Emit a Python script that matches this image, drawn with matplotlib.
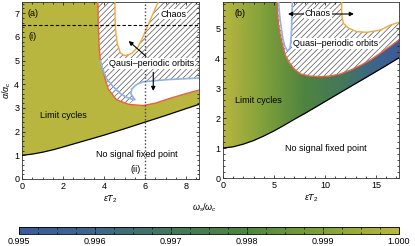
import matplotlib
matplotlib.use('Agg')  # sin pantalla
import matplotlib.pyplot as plt
from matplotlib.colors import LinearSegmentedColormap, Normalize
from matplotlib.cm import ScalarMappable
from matplotlib.patches import Polygon
from matplotlib.ticker import MultipleLocator
import numpy as np

plt.rcParams['font.family'] = ['Liberation Sans', 'DejaVu Sans']
plt.rcParams['mathtext.fontset'] = 'custom'
plt.rcParams['mathtext.rm'] = 'Liberation Sans'
plt.rcParams['mathtext.it'] = 'Liberation Sans:italic'
plt.rcParams['hatch.linewidth'] = 0.5

# --- panel (a): fronteras ---
a_black_x = [0, 0.5, 1, 1.5, 2, 3, 4, 5, 6, 7, 8, 8.7]
a_black_y = [1.0, 1.05, 1.13, 1.23, 1.35, 1.6, 1.85, 2.12, 2.4, 2.68, 2.97, 3.17]
a_red_x = [3.7, 3.72, 3.76, 3.82, 3.95, 4.2, 4.6, 5.2, 5.9, 6.5, 7.2, 7.9, 8.7]
a_red_y = [7.6, 6.5, 5.6, 5.0, 4.55, 3.8, 3.35, 3.15, 3.1, 3.2, 3.4, 3.58, 3.77]
a_blue_x = [3.8, 3.95, 4.15, 4.45, 4.8, 5.1, 5.35, 5.5, 5.3, 5.35, 5.6, 5.9, 6.5, 7.2, 7.9, 8.7]
a_blue_y = [5.0, 4.6, 4.2, 3.9, 3.6, 3.45, 3.37, 3.35, 3.6, 3.8, 4.0, 4.1, 4.15, 4.2, 4.23, 4.26]
a_orange_x = [4.53, 4.54, 4.58, 4.65, 4.8, 5.02, 5.35, 5.65, 5.9, 6.1, 6.35, 6.55, 6.72]
a_orange_y = [7.6, 6.7, 6.1, 5.7, 5.32, 5.2, 5.3, 5.57, 6.0, 6.4, 6.9, 7.3, 7.6]

# --- panel (b) ---
b_black_x = [0, 1, 2, 3, 4, 5, 6, 7, 8, 10, 12, 14, 16, 17.3]
b_black_y = [1.0, 1.04, 1.13, 1.25, 1.4, 1.57, 1.76, 1.96, 2.15, 2.55, 2.95, 3.35, 3.75, 4.02]
b_red_x = [5.3, 5.35, 5.45, 5.6, 5.8, 6.1, 6.5, 7.0, 7.6, 8.5, 9.5, 10.5, 11.5, 12.5, 13.5, 14.5, 15.5, 16.5, 17.3]
b_red_y = [6.0, 5.5, 5.1, 4.8, 4.5, 4.1, 3.85, 3.63, 3.47, 3.4, 3.38, 3.4, 3.47, 3.6, 3.76, 3.95, 4.18, 4.42, 4.62]
b_blue_x = [5.42, 5.5, 5.6, 5.75, 5.9, 6.05, 6.24, 6.4, 6.57, 6.65, 6.7, 6.75, 6.8]
b_blue_y = [6.0, 5.6, 5.27, 4.9, 4.6, 4.4, 4.27, 4.25, 4.33, 4.55, 4.83, 5.3, 6.0]
b_orange_x = [11.63, 11.63, 11.65, 11.8, 12.3, 13.1, 14.1, 15.4, 16.4, 17.3]
b_orange_y = [6.0, 5.6, 5.4, 5.16, 5.0, 4.88, 4.86, 4.93, 5.1, 5.2]

# omega_s/omega_c a lo largo de eps*T2 en el panel (b)
b_grad_x = [0, 2, 4, 6, 8, 10, 12, 14, 16, 17.3]
b_grad_w = [1.0, 0.9995, 0.999, 0.9985, 0.998, 0.9975, 0.997, 0.9962, 0.9955, 0.995]

cbar_ticks = [0.995, 0.996, 0.997, 0.998, 0.999, 1.000]
cmap_colors = ['#3b5a9c', '#3e6688', '#44765c', '#4e8440', '#80a03a', '#b9b640']

cmap = LinearSegmentedColormap.from_list('ws', cmap_colors)
norm = Normalize(0.995, 1.0)
HATCH_COL = '#555555'
RED = '#ec6040'
BLUE = '#8fb1e6'
ORANGE = '#f2a93b'
FS = 6.5


def estilo(ax, xmaj, xmin, ymaj, ymin):
    ax.xaxis.set_major_locator(MultipleLocator(xmaj))
    ax.xaxis.set_minor_locator(MultipleLocator(xmin))
    ax.yaxis.set_major_locator(MultipleLocator(ymaj))
    ax.yaxis.set_minor_locator(MultipleLocator(ymin))
    ax.tick_params(which='both', direction='in', top=True, right=True,
                   labelsize=FS, width=0.5, pad=2)
    ax.tick_params(which='major', length=2.5)
    ax.tick_params(which='minor', length=1.3)
    for s in ax.spines.values():
        s.set_linewidth(0.6)
        s.set_color('#333333')


def fronteras(ax, red_x, red_y, blue_x, blue_y, orange_x, orange_y, black_x, black_y):
    ax.plot(red_x, red_y, color=RED, lw=1.0, zorder=3)
    ax.plot(blue_x, blue_y, color=BLUE, lw=1.3, ls=(0, (0.8, 0.8)),
            dash_capstyle='round', zorder=3)
    ax.plot(orange_x, orange_y, color=ORANGE, lw=1.0, zorder=3)
    ax.plot(black_x, black_y, color='k', lw=0.9, zorder=3)


fig = plt.figure(figsize=(4.15, 2.46), dpi=100)
ax_a = fig.add_axes([22 / 415, 1 - 179 / 246, 177 / 415, 177 / 246])
ax_b = fig.add_axes([223 / 415, 1 - 178 / 246, 176 / 415, 176 / 246])
cax = fig.add_axes([19 / 415, 1 - 234 / 246, 380 / 415, 7 / 246])

# ---------------- panel (a) ----------------
ax = ax_a
top = 7.6
xr = a_red_x[-1]
olive = list(zip(a_black_x, a_black_y)) + list(zip(a_red_x, a_red_y))[::-1] + [(0, top)]
ax.add_patch(Polygon(olive, closed=True, facecolor=cmap(1.0), edgecolor='none', zorder=1))
quasi = list(zip(a_red_x, a_red_y)) + [(xr, top)]
ax.add_patch(Polygon(quasi, closed=True, facecolor='white', edgecolor=HATCH_COL,
                     lw=0, hatch='//////', zorder=1))
ax.add_patch(Polygon(list(zip(a_orange_x, a_orange_y)), closed=True,
                     facecolor='white', edgecolor='none', zorder=2))
hole = list(zip(a_blue_x[7:], a_blue_y[7:])) + \
    [(x, y) for x, y in zip(a_red_x, a_red_y) if x >= 5.2][::-1]
ax.add_patch(Polygon(hole, closed=True, facecolor='white', edgecolor='none', zorder=2))
fronteras(ax, a_red_x, a_red_y, a_blue_x, a_blue_y, a_orange_x, a_orange_y,
          a_black_x, a_black_y)
ax.axhline(6.5, color='k', lw=0.8, ls=(0, (3, 2)), zorder=4)
ax.axvline(6.0, color='#444444', lw=1.0, ls=(0, (1, 1.5)), zorder=4)

arr = dict(arrowstyle='-|>', color='k', lw=0.8, mutation_scale=6)
ax.annotate('', xy=(5.1, 5.9), xytext=(6.15, 5.1), arrowprops=arr, zorder=5)
ax.annotate('', xy=(6.4, 3.6), xytext=(6.4, 4.62), arrowprops=arr, zorder=5)
box = dict(facecolor='white', edgecolor='none', pad=0.6)
ax.text(6.3, 4.88, 'Qausi\u2013periodic orbits', fontsize=FS, ha='center',
        va='center', bbox=box, zorder=6)
ax.text(7.37, 6.96, 'Chaos', fontsize=FS, ha='center', va='center', bbox=box, zorder=6)
ax.text(0.25, 7.0, '(a)', fontsize=FS, ha='left', va='center', zorder=6)
ax.text(0.3, 6.03, '(i)', fontsize=FS, ha='left', va='center', zorder=6)
ax.text(5.55, 0.38, '(ii)', fontsize=FS, ha='center', va='center', zorder=6)
ax.text(2.0, 2.7, 'Limit cycles', fontsize=FS, ha='center', va='center', zorder=6)
ax.text(5.6, 1.05, 'No signal fixed point', fontsize=FS, ha='center', va='center', zorder=6)

ax.set_xlim(0, 8.63)
ax.set_ylim(0, 7.47)
estilo(ax, 2, 0.5, 1, 0.2)
ax.set_xlabel(r'$\varepsilon T_2$', fontsize=FS, labelpad=2)
ax.set_ylabel(r'$\alpha/\alpha_c$', fontsize=FS, labelpad=1)

# ---------------- panel (b) ----------------
ax = ax_b
top = 6.0
xr = b_red_x[-1]
gx, gy = np.meshgrid(b_grad_x, [0, top])
gc = np.vstack([b_grad_w, b_grad_w])
mesh = ax.pcolormesh(gx, gy, gc, cmap=cmap, norm=norm, shading='gouraud', zorder=1)
lc = list(zip(b_black_x, b_black_y)) + list(zip(b_red_x, b_red_y))[::-1] + [(0, top)]
clip = Polygon(lc, closed=True, facecolor='none', edgecolor='none', transform=ax.transData)
ax.add_patch(clip)
mesh.set_clip_path(clip)
quasi = list(zip(b_red_x, b_red_y)) + [(xr, top)]
ax.add_patch(Polygon(quasi, closed=True, facecolor='white', edgecolor=HATCH_COL,
                     lw=0, hatch='//////', zorder=1))
ax.add_patch(Polygon(list(zip(b_orange_x, b_orange_y)) + [(xr, top)], closed=True,
                     facecolor='white', edgecolor='none', zorder=2))
ax.add_patch(Polygon(list(zip(b_blue_x, b_blue_y)), closed=True,
                     facecolor='white', edgecolor='none', zorder=2))
fronteras(ax, b_red_x, b_red_y, b_blue_x, b_blue_y, b_orange_x, b_orange_y,
          b_black_x, b_black_y)

ax.annotate('', xy=(6.1, 5.47), xytext=(9.3, 5.47), arrowprops=arr, zorder=5)
ax.annotate('', xy=(13.1, 5.47), xytext=(9.3, 5.47), arrowprops=arr, zorder=5)
ax.text(9.3, 5.47, 'Chaos', fontsize=FS, ha='center', va='center', bbox=box, zorder=6)
ax.text(11.05, 4.49, 'Quasi\u2013periodic orbits', fontsize=FS, ha='center',
        va='center', bbox=box, zorder=6)
ax.text(1.1, 5.47, '(b)', fontsize=FS, ha='left', va='center', zorder=6)
ax.text(3.45, 2.6, 'Limit cycles', fontsize=FS, ha='center', va='center', zorder=6)
ax.text(10.1, 0.99, 'No signal fixed point', fontsize=FS, ha='center', va='center', zorder=6)

ax.set_xlim(0, 17.25)
ax.set_ylim(0, 5.87)
estilo(ax, 5, 1, 1, 0.2)
ax.set_xlabel(r'$\varepsilon T_2$', fontsize=FS, labelpad=2)

# ---------------- barra de color ----------------
cb = fig.colorbar(ScalarMappable(norm=norm, cmap=cmap), cax=cax, orientation='horizontal')
cb.set_ticks(cbar_ticks)
cax.xaxis.set_major_formatter('{x:.3f}')
cax.xaxis.set_minor_locator(MultipleLocator(0.00025))
cax.tick_params(which='both', direction='in', top=True, labelsize=FS, width=0.5, pad=2)
cax.tick_params(which='major', length=2.5)
cax.tick_params(which='minor', length=1.3)
cb.outline.set_linewidth(0.6)
fig.text(205 / 415, 1 - 208 / 246, r'$\omega_s/\omega_c$', fontsize=FS,
         ha='center', va='center')

fig.savefig('out.png', dpi=100)
